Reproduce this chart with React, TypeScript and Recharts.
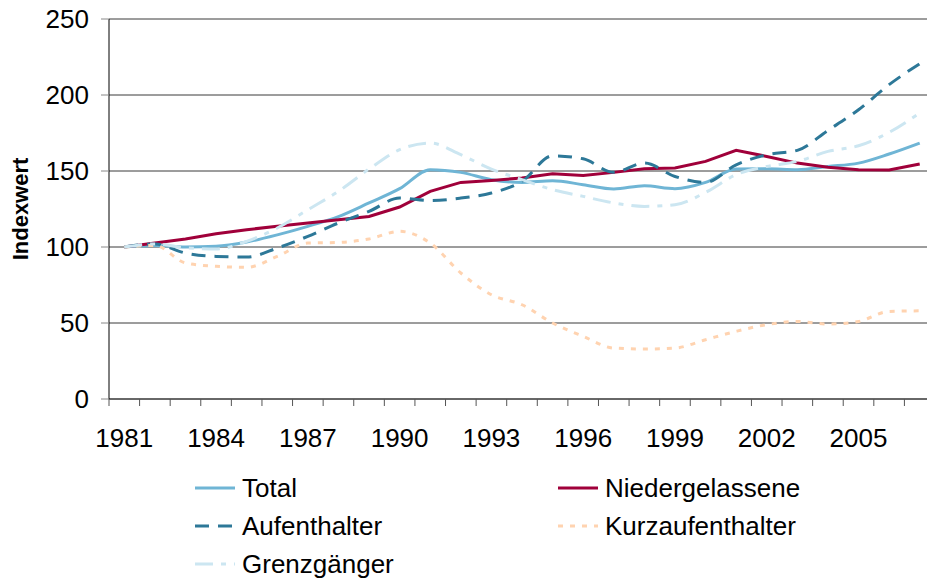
import { LineChart, Line, XAxis, YAxis, CartesianGrid } from 'recharts';

const years = [
  1981, 1982, 1983, 1984, 1985, 1986, 1987, 1988, 1989, 1990, 1991, 1992, 1993, 1994,
  1995, 1996, 1997, 1998, 1999, 2000, 2001, 2002, 2003, 2004, 2005, 2006, 2007,
];
const total = [
  100, 101, 100, 100.5, 103.3, 108, 113.6, 120, 129, 138.4, 150.9, 149.1, 144.3, 142.5,
  143.6, 141, 138.2, 140.3, 138.4, 142.5, 151.3, 151.5, 150.9, 153, 155.2, 161.2, 168.4,
];
const niedergelassene = [
  100, 102.6, 105.3, 108.7, 111.4, 113.6, 115.8, 118, 120.1, 126.3, 136.6, 142.5, 143.8, 145.4,
  148.2, 147.1, 149.1, 151.5, 152, 156.3, 163.6, 159.6, 155.2, 152.4, 150.9, 150.6, 154.6,
];
const aufenthalter = [
  100, 102, 96, 93.8, 93.4, 99.3, 107, 115.8, 123.4, 132.2, 130.5, 132.2, 135.5, 143.2,
  160, 158, 149.1, 155.3, 146.4, 142.5, 154.1, 160.7, 163.6, 176.7, 190.3, 206.8, 220.6,
];
const kurzaufenthalter = [
  100, 101, 89.5, 87.3, 86.6, 93.8, 102.6, 103, 105.3, 110.3, 102.6, 82.9, 68.6, 62,
  50, 41.2, 33.5, 32.9, 33.5, 39, 44.5, 48.9, 51, 49.3, 51, 57.6, 58,
];
const grenzgaenger = [
  100, 102, 99.5, 98.7, 103.7, 112.5, 124.5, 136.6, 151.3, 164, 168.4, 160.7, 151.3, 144.3,
  137.7, 133.3, 129, 126.7, 127.8, 135.9, 147.6, 153, 156.3, 162.9, 166.6, 175.4, 188.2,
];
const yTicks = [0, 50, 100, 150, 200, 250];

const data = years.map((year, i) => ({
  year,
  total: total[i],
  niedergelassene: niedergelassene[i],
  aufenthalter: aufenthalter[i],
  kurzaufenthalter: kurzaufenthalter[i],
  grenzgaenger: grenzgaenger[i],
}));

const FONT = '"Liberation Sans", Arial, sans-serif';

const series = [
  { key: 'total', name: 'Total', color: '#6FB5D5', dash: undefined, type: 'monotone' },
  { key: 'niedergelassene', name: 'Niedergelassene', color: '#A0003A', dash: undefined, type: 'linear' },
  { key: 'aufenthalter', name: 'Aufenthalter', color: '#2D7898', dash: '14 9', type: 'monotone' },
  { key: 'kurzaufenthalter', name: 'Kurzaufenthalter', color: '#FFD3B0', dash: '5 7', type: 'monotone' },
  { key: 'grenzgaenger', name: 'Grenzgänger', color: '#CCE6F1', dash: '18 8 5 8', type: 'monotone' },
];

// legend grid: Total | Niedergelassene / Aufenthalter | Kurzaufenthalter / Grenzgänger
const legendCols = [195, 558];

const YearTick = (props: any) => {
  const { x, y, payload, index } = props;
  const half = payload && payload.offset ? payload.offset : 15.3;
  return (
    <g>
      <line x1={x - half} x2={x - half} y1={y} y2={y + 7} stroke="#555" strokeWidth={1} />
      {index % 3 === 0 && (
        <text x={x} y={y + 48} textAnchor="middle" fontSize={26} fill="#000" fontFamily={FONT}>
          {payload.value}
        </text>
      )}
    </g>
  );
};

const App = () => {
  return (
    <div
      style={{
        position: 'fixed',
        left: 0,
        top: 0,
        width: 927,
        height: 585,
        overflow: 'hidden',
        background: '#fff',
        fontFamily: FONT,
      }}
    >
      <LineChart
        width={940}
        height={585}
        data={data}
        margin={{ top: 19, right: 5, left: 9, bottom: 126 }}
      >
        <CartesianGrid vertical={false} stroke="#3a3a3a" />
        <XAxis
          dataKey="year"
          scale="band"
          interval={0}
          height={60}
          tickSize={0}
          tickMargin={0}
          tickLine={false}
          axisLine={{ stroke: '#333' }}
          tick={<YearTick />}
        />
        <YAxis
          domain={[0, 250]}
          ticks={yTicks}
          width={100}
          tickSize={8}
          tickMargin={12}
          axisLine={{ stroke: '#000' }}
          tickLine={{ stroke: '#888' }}
          tick={{ fontSize: 26, fill: '#000', fontFamily: FONT }}
          label={{
            value: 'Indexwert',
            content: (p: any) => {
              const vb = p.viewBox || { x: 9, y: 19, height: 380 };
              const cx = vb.x + 11;
              const cy = vb.y + vb.height / 2;
              return (
                <text
                  x={cx}
                  y={cy}
                  transform={`rotate(-90 ${cx} ${cy})`}
                  textAnchor="middle"
                  dominantBaseline="central"
                  fontSize={22}
                  fontWeight="bold"
                  fill="#000"
                  fontFamily={FONT}
                >
                  Indexwert
                </text>
              );
            },
          }}
        />
        {series.map((s) => (
          <Line
            key={s.key}
            type={s.type as any}
            dataKey={s.key}
            name={s.name}
            stroke={s.color}
            strokeWidth={3}
            strokeDasharray={s.dash}
            dot={false}
            activeDot={false}
            isAnimationActive={false}
          />
        ))}
      </LineChart>

      {series.map((s, i) => {
        const left = legendCols[i % 2];
        const top = 488 + Math.floor(i / 2) * 38;
        return (
          <div key={s.key} style={{ position: 'absolute', left, top: top - 19, height: 38, display: 'flex', alignItems: 'center' }}>
            <svg width={40} height={8} style={{ display: 'block' }}>
              <line x1={0} x2={40} y1={4} y2={4} stroke={s.color} strokeWidth={3} strokeDasharray={s.dash} />
            </svg>
            <span style={{ marginLeft: 7, fontSize: 26, color: '#000', lineHeight: '38px' }}>{s.name}</span>
          </div>
        );
      })}
    </div>
  );
};

export default App;
